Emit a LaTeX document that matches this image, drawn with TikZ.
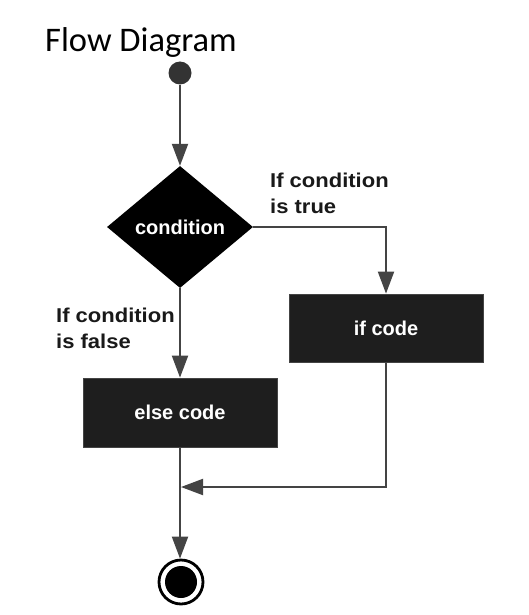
\documentclass[tikz,border=0pt]{standalone}
\usepackage{fontspec}
\usepackage{graphicx}
\setmainfont{Liberation Sans}
\newfontfamily\titlefont{Carlito}
\usetikzlibrary{shapes.geometric,arrows.meta}
\definecolor{lineg}{HTML}{444444}
\definecolor{boxk}{HTML}{1E1E1E}
\newcommand{\widelbl}[1]{\scalebox{1.1}[1]{#1}}
\tikzset{
  x=1pt,y=-1pt,
  flow/.style={draw=lineg,line width=2pt,-{Triangle[length=22pt,width=16pt]}},
  codebox/.style={rectangle,fill=boxk,draw=lineg,line width=0.8pt,minimum width=194pt,minimum height=68pt,inner sep=0pt,text=white,font=\fontsize{20}{24}\selectfont\bfseries},
  lbl/.style={anchor=base west,inner sep=0pt,font=\fontsize{20}{24}\selectfont\bfseries,text=black!90}
}
\begin{document}
\begin{tikzpicture}
\useasboundingbox[fill=white] (0,0) rectangle (528,615);
\node[anchor=base west,inner sep=0pt,font=\titlefont\fontsize{34.5}{40}\selectfont] (title) at (45,52) {Flow Diagram};
\node[circle,fill=black!80,minimum size=23pt,inner sep=0pt] (start) at (180,73) {};
\node[diamond,fill=black,minimum width=146pt,minimum height=122pt,inner sep=0pt,text=white,font=\fontsize{20}{24}\selectfont\bfseries] (cond) at (180,227) {condition};
\node[codebox] (ifc) at (386,328) {if code};
\node[codebox,minimum height=69pt] (elsec) at (180,412.5) {else code};
\node[circle,draw=black,line width=2.8pt,minimum size=44pt,inner sep=0pt] (end) at (181,582) {};
\node[circle,fill=black,minimum size=32pt,inner sep=0pt] (endin) at (end.center) {};
\coordinate (merge) at (181,487);
\draw[flow] (start) -- (cond.north);
\draw[flow] (cond.east) -| (ifc.north);
\draw[flow] (cond.south) -- (elsec.north);
\draw[flow] (elsec.south) -- (elsec.south |- end.north);
\draw[flow] (ifc.south) |- (merge);
\node[lbl] (tl1) at (270,187) {\widelbl{If condition}};
\node[lbl] (tl2) at (270,213) {\widelbl{is true}};
\node[lbl] (fl1) at (56,322) {\widelbl{If condition}};
\node[lbl] (fl2) at (56,348) {\widelbl{is false}};
\end{tikzpicture}
\end{document}
